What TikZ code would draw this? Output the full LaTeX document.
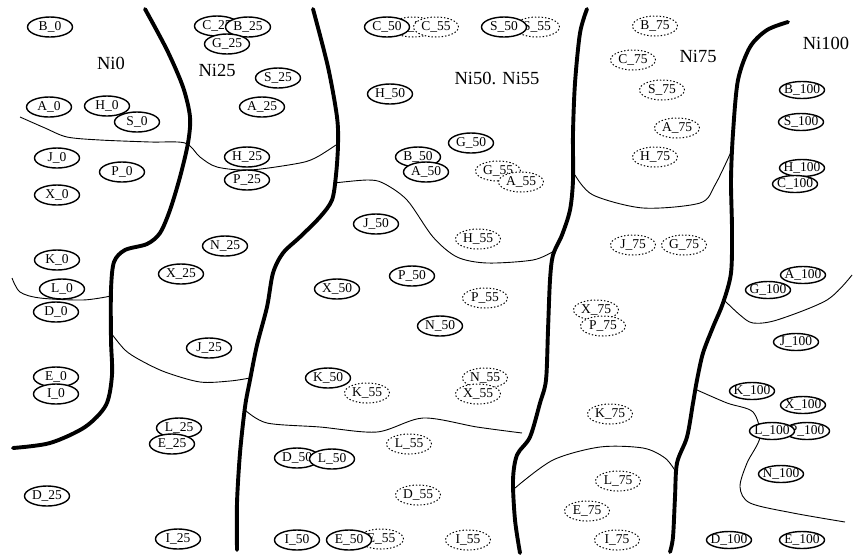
\documentclass[tikz,border=0pt]{standalone}
\usepackage{fontspec}
\setmainfont{Liberation Serif}
\usepackage{tikz}
\usetikzlibrary{shapes.geometric}
\tikzset{
  smp/.style={ellipse,draw,fill=white,line width=1.4pt,inner sep=0pt,
              minimum width=45pt,minimum height=20pt,
              font=\fontsize{13.5}{13.5}\selectfont},
  smps/.style={smp,inner xsep=-2.5pt,minimum height=17pt},
  smpd/.style={smp,dotted,line width=1pt},
  zone/.style={font=\fontsize{18.5}{18.5}\selectfont,inner sep=0pt},
  bound/.style={line width=3.9pt,line cap=round,line join=round},
  sub/.style={line width=0.9pt},
}
\begin{document}
\begin{tikzpicture}[x=1pt,y=-1pt]
  \useasboundingbox[fill=white] (0,0) rectangle (853,558);

  \draw[bound] plot[smooth] coordinates {(145,9) (167,50) (183,87) (190,117)
    (188,143) (180,177) (170,210) (160,233) (147,244) (125,250) (114,262)
    (111,290) (111,340) (112,375) (106,405) (85,427) (50,443) (13,448)};
  \draw[bound] plot[smooth] coordinates {(313,9) (328,67) (337,117) (338,145)
    (336,175) (332,200) (320,217) (300,237) (283,253) (273,273) (267,307)
    (257,345) (250,380) (245,407) (240,453) (237,503) (237,550)};
  \draw[bound] plot[smooth] coordinates {(587,9) (580,33) (575,83) (573,133)
    (573,180) (570,210) (562,235) (553,255) (550,280) (548,330) (546,380)
    (540,403) (530,437) (517,455) (513,480) (515,520) (520,553)};
  \draw[bound] plot[smooth] coordinates {(788,22) (767,30) (750,47) (738,80)
    (733,133) (731,180) (732,230) (731,273) (723,303) (713,327) (703,353)
    (697,380) (693,403) (687,437) (677,463) (675,497) (673,537) (670,552)};

  \draw[sub] plot[smooth] coordinates {(20,117) (45,128) (67,137) (100,140)
    (150,142) (185,143) (200,157) (217,167) (250,170) (300,163) (317,157) (336,145)};
  \draw[sub] plot[smooth] coordinates {(12,278) (20,292) (40,298) (83,300) (111,296)};
  \draw[sub] plot[smooth] coordinates {(111,333) (125,350) (140,360) (165,372)
    (200,382) (230,381) (250,378)};
  \draw[sub] plot[smooth] coordinates {(334,183) (367,180) (383,183) (407,200)
    (433,237) (457,257) (487,263) (533,260) (554,251)};
  \draw[sub] plot[smooth] coordinates {(245,410) (267,423) (320,427) (377,432)
    (423,418) (477,427) (522,433)};
  \draw[sub] plot[smooth] coordinates {(575,175) (593,195) (643,208) (700,203)
    (715,185) (731,152)};
  \draw[sub] plot[smooth] coordinates {(724,300) (740,315) (753,323) (777,320)
    (827,300) (852,275)};
  \draw[sub] plot[smooth] coordinates {(515,488) (553,460) (600,447) (643,448)
    (665,458) (676,472)};
  \draw[sub] plot[smooth] coordinates {(697,390) (727,403) (753,412) (760,437)
    (747,463) (740,487) (750,503) (793,513) (845,522)};

  \node[zone] (ni0) at (111,63) {Ni0};
  \node[zone] (ni25) at (217,70) {Ni25};
  \node[zone] (ni50) at (497,78) {Ni50. Ni55};
  \node[zone] (ni75) at (698,56) {Ni75};
  \node[zone] (ni100) at (826,43) {Ni100};

  \node[smp] (b0) at (50,27) {B\_0};
  \node[smp] (a0) at (49,107) {A\_0};
  \node[smp] (h0) at (107,106) {H\_0};
  \node[smp] (s0) at (137,122) {S\_0};
  \node[smp] (j0) at (57,158) {J\_0};
  \node[smp] (p0) at (122,172) {P\_0};
  \node[smp] (x0) at (57,195) {X\_0};
  \node[smp] (k0) at (57,260) {K\_0};
  \node[smp] (l0) at (62,289) {L\_0};
  \node[smp] (d0) at (56,312) {D\_0};
  \node[smp] (e0) at (56,377) {E\_0};
  \node[smp] (i0) at (56,394) {I\_0};

  \node[smp] (c25) at (217,26) {C\_25};
  \node[smp] (b25) at (248,27) {B\_25};
  \node[smp] (g25) at (227,44) {G\_25};
  \node[smp] (s25) at (278,78) {S\_25};
  \node[smp] (a25) at (262,107) {A\_25};
  \node[smp] (h25) at (247,157) {H\_25};
  \node[smp] (p25) at (247,180) {P\_25};
  \node[smp] (n25) at (225,246) {N\_25};
  \node[smp] (x25) at (181,274) {X\_25};
  \node[smp] (j25) at (209,348) {J\_25};
  \node[smp] (l25) at (179,428) {L\_25};
  \node[smp] (e25) at (172,444) {E\_25};
  \node[smp] (d25) at (47,496) {D\_25};
  \node[smp] (i25) at (178,539) {I\_25};

  \node[smpd] (b55) at (413,27) {B\_55};
  \node[smpd] (c55) at (436,27) {C\_55};
  \node[smp] (c50) at (387,27) {C\_50};
  \node[smpd] (s55) at (537,27) {S\_55};
  \node[smp] (s50) at (504,27) {S\_50};
  \node[smp] (h50) at (390,94) {H\_50};
  \node[smp] (g50) at (471,143) {G\_50};
  \node[smp] (b50) at (418,157) {B\_50};
  \node[smp] (a50) at (426,172) {A\_50};
  \node[smpd] (g55) at (498,171) {G\_55};
  \node[smpd] (a55) at (521,182) {A\_55};
  \node[smp] (j50) at (376,224) {J\_50};
  \node[smpd] (h55) at (478,239) {H\_55};
  \node[smp] (p50) at (412,276) {P\_50};
  \node[smp] (x50) at (337,289) {X\_50};
  \node[smpd] (p55) at (485,298) {P\_55};
  \node[smp] (n50) at (440,326) {N\_50};
  \node[smp] (k50) at (328,378) {K\_50};
  \node[smpd] (k55) at (367,393) {K\_55};
  \node[smpd] (n55) at (485,378) {N\_55};
  \node[smpd] (x55) at (478,394) {X\_55};
  \node[smpd] (l55) at (409,444) {L\_55};
  \node[smp] (d50) at (297,458) {D\_50};
  \node[smp] (l50) at (332,459) {L\_50};
  \node[smpd] (d55) at (418,495) {D\_55};
  \node[smp] (i50) at (297,540) {I\_50};
  \node[smpd] (e55) at (381,539) {E\_55};
  \node[smp] (e50) at (349,540) {E\_50};
  \node[smpd] (i55) at (468,540) {I\_55};

  \node[smpd] (b75) at (655,26) {B\_75};
  \node[smpd] (c75) at (633,60) {C\_75};
  \node[smpd] (s75) at (662,90) {S\_75};
  \node[smpd] (a75) at (677,128) {A\_75};
  \node[smpd] (h75) at (655,157) {H\_75};
  \node[smpd] (j75) at (633,245) {J\_75};
  \node[smpd] (g75) at (684,245) {G\_75};
  \node[smpd] (x75) at (596,310) {X\_75};
  \node[smpd] (p75) at (603,326) {P\_75};
  \node[smpd] (k75) at (610,414) {K\_75};
  \node[smpd] (l75) at (618,481) {L\_75};
  \node[smpd] (e75) at (587,511) {E\_75};
  \node[smpd] (i75) at (617,540) {I\_75};

  \node[smps] (b100) at (802,90) {B\_100};
  \node[smps] (s100) at (801,122) {S\_100};
  \node[smps] (h100) at (802,168) {H\_100};
  \node[smps] (c100) at (795,184) {C\_100};
  \node[smps] (a100) at (803,275) {A\_100};
  \node[smps] (g100) at (768,290) {G\_100};
  \node[smps] (j100) at (796,342) {J\_100};
  \node[smps] (k100) at (752,391) {K\_100};
  \node[smps] (x100) at (803,405) {X\_100};
  \node[smps] (p100) at (807,431) {P\_100};
  \node[smps] (l100) at (772,431) {L\_100};
  \node[smps] (n100) at (781,474) {N\_100};
  \node[smps] (d100) at (729,540) {D\_100};
  \node[smps] (e100) at (802,540) {E\_100};
\end{tikzpicture}
\end{document}
